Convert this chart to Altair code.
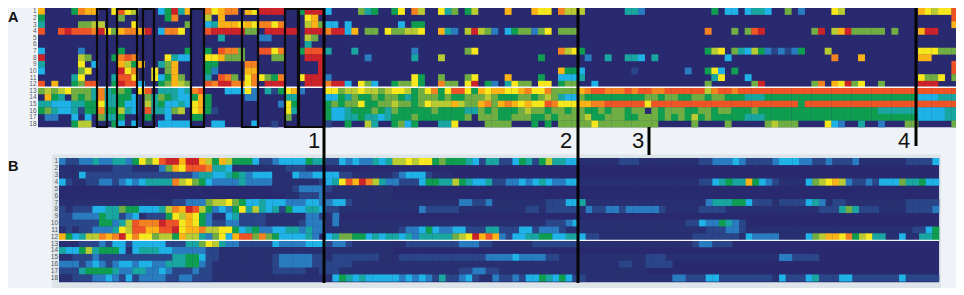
import altair as alt
import pandas as pd

# Level codes: '.' is background, then 1..9, a..d run from blue through green and yellow to red.
LEVELS = [".", "1", "2", "3", "4", "5", "6", "7", "8", "9", "a", "b", "c", "d"]
COLOURS = ["#28296f", "#293072", "#2a4688", "#2a7cc0", "#1fb2e6", "#1aa6a0", "#0f9d50", "#70ae44",
           "#b9cb33", "#f7e81d", "#fbb316", "#f58220", "#ee5426", "#cc2229"]

ROW_LABELS = [str(i) for i in range(1, 19)]

A_LEFT = [
    "a....6baa..9c98...46d5a..b9abb.a9dddd..6ddd",
    "6...........7......6b....8.a............9a.",
    "5.....7788....9.......7..45aaa9a9bb9b...8a7",
    "c..cdcccbd97abbad.4bb9...cddddd77.ddddd.ddd",
    "...........................5.....33.....87.",
    "........................................5..",
    "4.....3.....6.........6..6.cbb7..cc9b..6ccc",
    "d.....87...6bcb....9544..99a777....77...ddd",
    "5.....9.4...a86a..57a....66....bb.........d",
    "4.....79....d9b..9.7a....63....aa.........d",
    ".....59....5cc9..946a7...5.cb7.9b976b..9ddd",
    "c.a..67cc..6dcc4..67a87..cbddbb9b.ddd...ddd",
    "787897775b5676.9c.55545bc...44493.5269a3...",
    ".a65.7675b55664.75765446a6.....33....55....",
    "5544455669" + "55644" + "." + "8564454" + "9a6" + ".........." + "396" + "....",
    "67544526" + "6b66854" + "." + "c55478" + "." + "9a62" + ".........." + "95" + "....",
    ".33..4.4.7556...6..4...66............7.....",
    ".....688...64.4...44444...44....4..2.......",
]

A_MID = [
    "4....756..69.b8..957.68....a...a99.b888......553",
    "",
    "44.4.......4.66",
    "bdd4a.77.977889..a53.8d873.4677379.777",
    "",
    "",
    "5...5........3.......79............b896",
    "......3......5...8..............6......3..5..554",
    "",
    "...................................a664.......2.",
    "3............96..7...79....a....6..4445",
    "bdd4.974..67796..b77.9d.63.5977.99.677..4",
    "997889887899867" + "9b69cc96a9aa99ab99b" + "7777abccbbbcbc",
    "44657667" + "67765" + "67776" + "76677" + "78766" + "67767" + "87544" + "76666" + "66666",
    "67677966" + "77877" + "67" + "9888" + "a877" + "ab" + "7aba" + "9a99" + "cb" + "999" + "aabb" + "cccc" + "cc",
    "6445666765" + "7666667" + "66665" + "57676" + "66787" + "76776" + "77667" + "67767" + "7",
    "6445565545" + "66676" + "66666" + "67." + "77766" + "77766" + "76777" + "78667" + "77667",
    "2..6.." + "85" + ".." + "6746" + "..." + "559" + "...." + "7777" + "..." + "6.6." + "77777" + "97777777",
]

A_RIGHT = [
    "..........6.44.4554..7.3....98...........a9899c",
    "..............................................c",
    "..............................................a",
    ".........b...7.7cd.......7d.8ad77777.7...add...",
    "",
    "",
    ".........689.7548" + "6323236" + "..." + "8" + "............." + "999777",
    ".5..........4...............b...a........aa....",
    "..............................................c",
    "......3..694.6................................c",
    "..........59...4.........................9779.7",
    ".........7......7d.......7b.a9d79..7.....ddd...",
    "cbbcccccc8bccbccccccccccccccccccccccccccccccccc",
    "776776677677666" + "555" + "66666666666666666666666" + "444555",
    "9" + "cccccccccccccccccccccc" + "6" + "ccccccccccccccccccccccc",
    ".7677766776776667" + "666666666666666666" + "555555" + "444455",
    "7767676867666" + "6655566666666666666666666666" + "444455",
    "77.....7....7.....78777....943..5..3...77.....7",
]

B_LEFT = [
    "322335335536979cdd" + "add" + "a86a8666" + "42" + "234444655",
    "111111112221111" + "37a9" + "cccb" + "554" + "1" + "1111111222111",
    "1114222222222222222235" + "5" + "4456" + "53" + "444" + "111" + "43344",
    "4211223323" + "43455" + "55" + "b89" + "764" + "33335" + "3333" + "11111112",
    "................................" + "11123333",
    ".................................." + "112223",
    "11111111111111111" + "2233" + "3" + "788976" + "445" + "444333443",
    "2122244557" + "66444" + "58ba" + "dc86" + "34369" + "58545" + "2644554",
    "2233336552" + "34122" + "2698a" + "9631" + "1452" + "22211" + "1111" + "332",
    "222222" + "66" + "35" + "8cbbb" + "dcc" + "9a96" + "322" + "33" + "2222" + "11111" + "2333",
    "1212233359" + "8ccaa" + "ccd" + "9aab" + "8899" + "6456" + "3344" + "553533",
    "a64588bab" + "d9b99" + "788" + "6a88" + "5379" + "4acc" + "7b76" + "444453",
    "11122232" + "44" + "2" + "44444" + "222" + "557985" + "33222" + "22433" + "33444",
    "5446856664" + "14555" + "44333" + "33221" + "111111111111111",
    "1122232222222222" + "2" + "55664" + "2211111111" + "23333322",
    "3332343234" + "43443" + "35556" + "632" + "111111111" + "23333322",
    "2225666653" + "35533" + "43222" + "32211" + "1111111" + "22222112",
    "1122233432" + "42333" + "32233" + "22211" + "111111111111111",
]

B_MID = [
    "2243433545" + "88989" + "96766" + "65425" + "52246" + "52685" + "54411" + "11112221",
    "",
    "4422111111" + "23444" + "2111",
    "459cadb853" + "32224" + "66558" + "65445" + "22334" + "34543" + "3441" + "111111111",
    "2111111111",
    "1111111111",
    "3442111111" + "1111111111" + "33223" + "11111111" + "22244" + "5" + "111111111",
    "2211111111" + "1111322222" + "1111111111" + "2212222213" + "22332333",
    "13",
    "13" + "1111111111111111111111111111111" + "22234" + "1111111111",
    "11111111111" + "233" + "46433" + "44222" + "55222" + "44233" + "32" + "111111111111",
    "4577664545" + "54535" + "55557" + "89dac" + "a3244" + "55664" + "4554" + "22" + "1111111",
    "2332111111" + "1122222222" + "33322" + "111111" + "2222222" + "1111111111",
    "1111111111",
    "1222222211" + "1222222222" + "22223" + "33343" + "33322" + "1111111111111",
    "2222" + "1111111111111111111111111111111111111111" + "2211",
    "22" + "111111111111111111" + "223322" + "1111111111111111111111",
    "1465454444" + "43434" + "32522" + "34211" + "32232" + "44654" + "6422" + "111111111",
]

B_RIGHT = [
    "11111111" + "2233343" + "2222" + "3444" + "3322" + "32223" + "1111111" + "22224",
    "",
    "",
    "1111111" + "122" + "45655" + "a6432" + "1111" + "4789a" + "83223" + "24447" + "55644",
    "",
    "",
    "111111111" + "35556" + "64222" + "12222" + "45312" + "2" + "111111111" + "22222",
    "3321" + "1111" + "2222" + "11111111111111" + "222" + "575" + "222" + "1111" + "2222" + "3",
    "",
    "111111" + "224336532",
    "111111111" + "222" + "33" + "2" + "1111111111111111111111111" + "22" + "46",
    "1111111" + "22222221" + "43333" + "1111" + "478aa" + "9b689" + "55114" + "11556",
    "1111111" + "233222",
    "",
    "222" + "11111111111111111" + "332222",
    "2222",
    "",
    "1111" + "33" + "222" + "44" + "22222222" + "1" + "4" + "222" + "45" + "222" + "44" + "2222222" + "4" + "22222",
]

# Black outlines around columns of panel A (left and right edge in the picture's pixel frame).
BOX_LEFT = [97, 117, 143, 191, 242, 285, 299]
BOX_RIGHT = [107, 137, 154, 204, 258, 298, 324]
LINE_NAMES = ["1", "2", "3", "4"]
LINE_X = [324, 578, 649, 916]
LINE_TOP = [8, 8, 127, 8]
LINE_BOTTOM = [283, 283, 155, 146]
NAME_X = [314, 566, 638, 904]

CW = 6.667
A_X0, A_Y0, A_RH = 38.0, 8.0, 6.62
B_X0, B_Y0, B_RH = 59.0, 158.0, 6.85
A_SEGS = [(A_LEFT, 0, 43), (A_MID, 43, 48), (A_RIGHT, 91, 47)]
B_SEGS = [(B_LEFT, 0, 40), (B_MID, 40, 48), (B_RIGHT, 88, 44)]
A_COLS, B_COLS = 138, 132


def expand(segs, x0, y0, rh):
    out = []
    for r in range(18):
        for rows, start, n in segs:
            s = rows[r][:n].ljust(n, ".")
            for k, ch in enumerate(s):
                if ch == ".":
                    continue
                c = start + k
                out.append({"x": x0 + c * CW, "x2": x0 + (c + 1) * CW + 0.25,
                            "y": y0 + r * rh, "y2": y0 + (r + 1) * rh + 0.25, "level": ch})
    return out


cells = pd.DataFrame(expand(A_SEGS, A_X0, A_Y0, A_RH) + expand(B_SEGS, B_X0, B_Y0, B_RH))

X = alt.X("x:Q", axis=None, scale=alt.Scale(domain=[8, 956], nice=False, zero=False))
Y = alt.Y("y:Q", axis=None, scale=alt.Scale(domain=[288, 8], nice=False, zero=False))

frame = alt.Chart(pd.DataFrame([{"x": 52, "x2": 941, "y": 154.5, "y2": 288}])).mark_rect(color="#dde4ea").encode(
    x=X, x2="x2:Q", y=Y, y2="y2:Q")
ground = alt.Chart(pd.DataFrame([
    {"x": A_X0, "x2": A_X0 + A_COLS * CW, "y": A_Y0, "y2": A_Y0 + 18 * A_RH},
    {"x": B_X0, "x2": B_X0 + B_COLS * CW, "y": B_Y0, "y2": B_Y0 + 18 * B_RH + 1},
])).mark_rect(color=COLOURS[0]).encode(x=X, x2="x2:Q", y=Y, y2="y2:Q")

heat = alt.Chart(cells).mark_rect().encode(
    x=X, x2="x2:Q", y=Y, y2="y2:Q",
    color=alt.Color("level:N", legend=None, scale=alt.Scale(domain=LEVELS, range=COLOURS)))

splits = alt.Chart(pd.DataFrame([
    {"x": A_X0, "x2": A_X0 + A_COLS * CW, "y": A_Y0 + 12 * A_RH - 0.2},
    {"x": B_X0, "x2": B_X0 + B_COLS * CW, "y": B_Y0 + 12 * B_RH + 0.2},
])).mark_rule(color="#f4f6f8", strokeWidth=1.4).encode(x=X, x2="x2:Q", y=Y)

boxes = alt.Chart(pd.DataFrame({"x": BOX_LEFT, "x2": BOX_RIGHT, "y": [9] * 7, "y2": [127] * 7})).mark_rect(
    fillOpacity=0, stroke="#0b0b0b", strokeWidth=2.2).encode(x=X, x2="x2:Q", y=Y, y2="y2:Q")

lines = alt.Chart(pd.DataFrame({"x": LINE_X, "y": LINE_TOP, "y2": LINE_BOTTOM})).mark_rule(
    color="#050505", strokeWidth=3).encode(x=X, y=Y, y2="y2:Q")

names = alt.Chart(pd.DataFrame({"x": NAME_X, "y": [148] * 4, "t": LINE_NAMES})).mark_text(
    font="Liberation Sans", fontSize=22, color="#111111", baseline="alphabetic", align="center").encode(
    x=X, y=Y, text="t:N")

panels = alt.Chart(pd.DataFrame({"x": [8, 8], "y": [22, 170.5], "t": ["A", "B"]})).mark_text(
    font="Liberation Sans", fontSize=14.5, fontWeight="bold", color="#111111", baseline="alphabetic",
    align="left").encode(x=X, y=Y, text="t:N")

labels_a = alt.Chart(pd.DataFrame({"x": [36.5] * 18, "y": [A_Y0 + (i + 0.5) * A_RH for i in range(18)],
                                   "t": ROW_LABELS})).mark_text(
    font="Liberation Sans", fontSize=6.5, color="#555a60", baseline="middle", align="right").encode(
    x=X, y=Y, text="t:N")
labels_b = alt.Chart(pd.DataFrame({"x": [58] * 18, "y": [B_Y0 + (i + 0.5) * B_RH for i in range(18)],
                                   "t": ROW_LABELS})).mark_text(
    font="Liberation Sans", fontSize=6.5, color="#555a60", baseline="middle", align="right").encode(
    x=X, y=Y, text="t:N")

chart = alt.layer(frame, ground, heat, splits, boxes, lines, names, panels, labels_a, labels_b).properties(
    width=948, height=280, padding=0, background="#eff3f7",
    autosize=alt.AutoSizeParams(type="none"),
).configure_view(stroke=None)

chart.save("out.html", embed_options={"renderer": "svg", "actions": False})
